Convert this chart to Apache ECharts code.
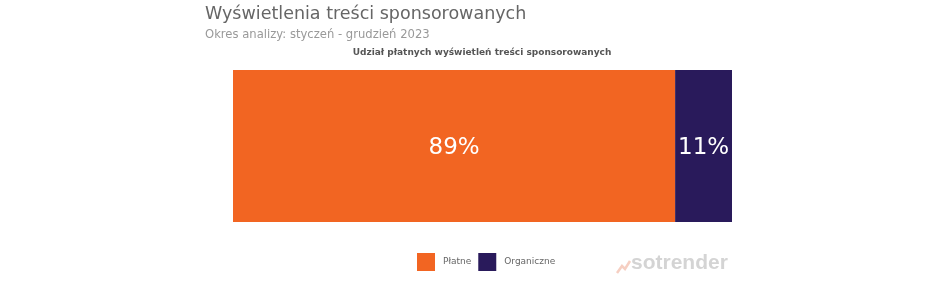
<!DOCTYPE html>
<html>
<head>
<meta charset="utf-8">
<script src="https://cdn.jsdelivr.net/npm/echarts@6/dist/echarts.min.js"></script>
<style>html,body{margin:0;padding:0;background:#fff;}#c{width:941px;height:297px;}</style>
</head>
<body>
<div id="c"></div>
<script>
const categories = ['Udział'];
const seriesNames = ['Płatne', 'Organiczne'];
const platne = [88.6];
const organiczne = [11.4];
const colors = ['#F26522', '#291A5B'];

const chart = echarts.init(document.getElementById('c'));
const font = 'DejaVu Sans';
const labelCfg = {
  show: true, position: 'inside', color: '#fff', fontSize: 23, fontFamily: font,
  offset: [0, 2],
  formatter: p => Math.round(p.value) + '%'
};
chart.setOption({
  animation: false,
  textStyle: { fontFamily: font },
  title: [
    { text: 'Wyświetlenia treści sponsorowanych', left: 205, top: 5, padding: 0,
      textStyle: { fontSize: 17.5, fontWeight: 'normal', color: '#666', fontFamily: font } },
    { text: 'Okres analizy: styczeń - grudzień 2023', left: 205, top: 29, padding: 0,
      textStyle: { fontSize: 11.6, fontWeight: 'normal', color: '#999', fontFamily: font } },
    { text: 'Udział płatnych wyświetleń treści sponsorowanych', left: 482, textAlign: 'center', top: 48, padding: 0,
      textStyle: { fontSize: 9, fontWeight: 'bold', color: '#555', fontFamily: font } }
  ],
  legend: {
    data: seriesNames, left: 417, top: 253, padding: 0, itemWidth: 18, itemHeight: 18, itemGap: 7,
    icon: 'rect', textStyle: { fontSize: 9, color: '#666', fontFamily: font, padding: [0, 0, 0, 3] }
  },
  grid: { left: 233, right: 209, top: 70, bottom: 75 },
  xAxis: { type: 'value', min: 0, max: 100, show: false },
  yAxis: { type: 'category', data: categories, show: false },
  series: [
    { name: seriesNames[0], type: 'bar', stack: 'a', data: platne, barWidth: '100%',
      itemStyle: { color: colors[0] }, label: labelCfg },
    { name: seriesNames[1], type: 'bar', stack: 'a', data: organiczne, barWidth: '100%',
      itemStyle: { color: colors[1] }, label: labelCfg }
  ],
  graphic: [
    { type: 'text', left: 631, top: 253,
      style: { text: 'sotrender', fontSize: 21, fontWeight: 'bold', fill: '#d4d4d4', fontFamily: 'Liberation Sans' } },
    { type: 'polyline', shape: { points: [[617, 273], [622, 266], [625, 269], [630, 261]] },
      style: { stroke: '#f6cfc2', lineWidth: 2.5, fill: null } }
  ]
});
</script>
</body>
</html>
